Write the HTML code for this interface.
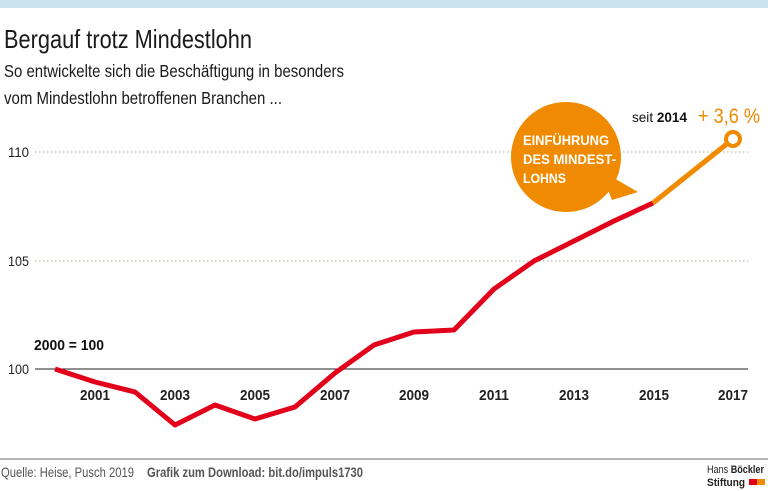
<!DOCTYPE html>
<html><head><meta charset="utf-8"><style>
html,body{margin:0;padding:0;background:#fff}
svg{display:block}
text{font-family:"Liberation Sans Narrow","Liberation Sans",sans-serif}
</style></head><body>
<svg width="768" height="491" viewBox="0 0 768 491" xmlns="http://www.w3.org/2000/svg">
<rect x="0" y="0" width="768" height="8" fill="#c9e4ee"/>
<text x="4" y="48" font-size="26" fill="#1a1a1a" textLength="248" lengthAdjust="spacingAndGlyphs">Bergauf trotz Mindestlohn</text>
<text x="4" y="77" font-size="17.5" fill="#1a1a1a" textLength="340" lengthAdjust="spacingAndGlyphs">So entwickelte sich die Beschäftigung in besonders</text>
<text x="4" y="104" font-size="17.5" fill="#1a1a1a" textLength="278" lengthAdjust="spacingAndGlyphs">vom Mindestlohn betroffenen Branchen ...</text>
<line x1="35" y1="152" x2="748" y2="152" stroke="#b5ab95" stroke-dasharray="1.5,2.5" stroke-width="1"/>
<line x1="35" y1="261" x2="748" y2="261" stroke="#b5ab95" stroke-dasharray="1.5,2.5" stroke-width="1"/>
<line x1="35" y1="369" x2="748" y2="369" stroke="#222" stroke-width="1"/>
<g font-size="14" fill="#222">
<text x="8" y="157" textLength="21" lengthAdjust="spacingAndGlyphs">110</text><text x="8" y="266" textLength="21" lengthAdjust="spacingAndGlyphs">105</text><text x="8" y="374" textLength="21" lengthAdjust="spacingAndGlyphs">100</text>
</g>
<text x="34" y="350" font-size="15" font-weight="bold" fill="#111" textLength="70" lengthAdjust="spacingAndGlyphs">2000 = 100</text>
<g font-size="15" font-weight="bold" fill="#222">
<text x="80" y="400" textLength="30" lengthAdjust="spacingAndGlyphs">2001</text><text x="160" y="400" textLength="30" lengthAdjust="spacingAndGlyphs">2003</text><text x="240" y="400" textLength="30" lengthAdjust="spacingAndGlyphs">2005</text><text x="320" y="400" textLength="30" lengthAdjust="spacingAndGlyphs">2007</text><text x="399" y="400" textLength="30" lengthAdjust="spacingAndGlyphs">2009</text><text x="479" y="400" textLength="30" lengthAdjust="spacingAndGlyphs">2011</text><text x="559" y="400" textLength="30" lengthAdjust="spacingAndGlyphs">2013</text><text x="639" y="400" textLength="30" lengthAdjust="spacingAndGlyphs">2015</text><text x="718" y="400" textLength="30" lengthAdjust="spacingAndGlyphs">2017</text>
</g>
<polyline points="55,369 95,382 135,392 175,425 215,405 255,419 295,407 335,373 374,345 414,332 454,330 494,289 534,261 574,241 614,221 653,203" fill="none" stroke="#e2001a" stroke-width="5" stroke-linejoin="round"/>
<line x1="653" y1="203" x2="733" y2="139" stroke="#f08a00" stroke-width="5"/>
<circle cx="733" cy="139" r="7" fill="#fff" stroke="#f08a00" stroke-width="4"/>
<circle cx="566" cy="157" r="55" fill="#f08a00"/>
<polygon points="600,170 638,192 612,200" fill="#f08a00"/>
<g font-size="14" font-weight="bold" fill="#fff">
<text x="523" y="145" textLength="86" lengthAdjust="spacingAndGlyphs">EINFÜHRUNG</text><text x="523" y="164" textLength="93" lengthAdjust="spacingAndGlyphs">DES MINDEST-</text><text x="523" y="183" textLength="43" lengthAdjust="spacingAndGlyphs">LOHNS</text>
</g>
<text x="632" y="122" font-size="14" fill="#111" textLength="55" lengthAdjust="spacingAndGlyphs">seit <tspan font-weight="bold">2014</tspan></text>
<text x="698" y="123" font-size="21" fill="#f08a00" textLength="62" lengthAdjust="spacingAndGlyphs">+ 3,6 %</text>
<line x1="0" y1="459" x2="768" y2="459" stroke="#888" stroke-width="1.2"/>
<text x="1" y="477" font-size="14" fill="#555" textLength="133" lengthAdjust="spacingAndGlyphs">Quelle: Heise, Pusch 2019</text>
<text x="147" y="477" font-size="14" font-weight="bold" fill="#555" textLength="216" lengthAdjust="spacingAndGlyphs">Grafik zum Download: bit.do/impuls1730</text>
<text x="707" y="473" font-size="11" fill="#222" textLength="57" lengthAdjust="spacingAndGlyphs">Hans <tspan font-weight="bold">Böckler</tspan></text>
<text x="707" y="486" font-size="11" font-weight="bold" fill="#222" textLength="38" lengthAdjust="spacingAndGlyphs">Stiftung</text>
<rect x="749" y="479" width="8" height="6" fill="#e2001a"/><rect x="757" y="479" width="8" height="6" fill="#f08a00"/>
</svg>
</body></html>
